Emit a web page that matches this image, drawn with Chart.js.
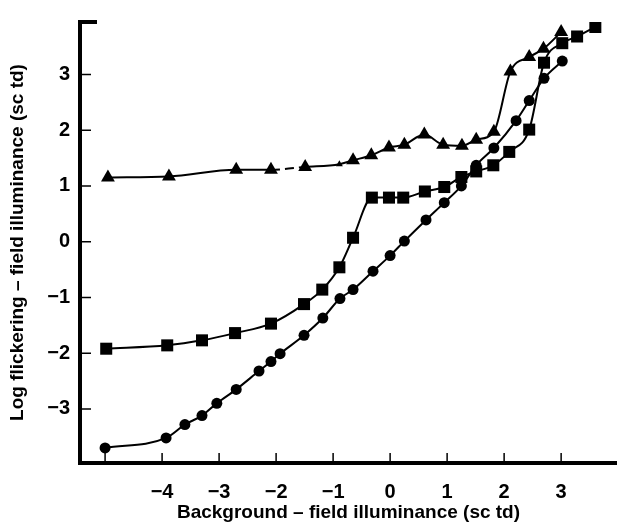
<!DOCTYPE html>
<html>
<head>
<meta charset="utf-8">
<script src="https://cdn.jsdelivr.net/npm/chart.js@4.4.0/dist/chart.umd.min.js"></script>
<style>
  html, body { margin: 0; padding: 0; background: #fff; }
  #wrap { width: 617px; height: 529px; }
</style>
</head>
<body>
<div id="wrap"><canvas id="chart"></canvas></div>
<script>
// background - field illuminance (x) and log flickering - field illuminance (y)
const triX = [-4.95, -3.88, -2.70, -2.09, -1.49, -0.89, -0.65, -0.33, -0.02, 0.25, 0.60, 0.93, 1.26, 1.51, 1.82, 2.11, 2.44, 2.69, 3.00];
const triY = [1.15, 1.17, 1.29, 1.29, 1.34, 1.39, 1.46, 1.55, 1.69, 1.74, 1.92, 1.74, 1.72, 1.83, 1.97, 3.05, 3.31, 3.46, 3.76];

const sqX = [-4.98, -3.91, -3.30, -2.72, -2.09, -1.51, -1.19, -0.89, -0.65, -0.32, -0.02, 0.23, 0.61, 0.95, 1.25, 1.51, 1.81, 2.09, 2.44, 2.70, 3.02, 3.28, 3.60];
const sqY = [-1.92, -1.86, -1.77, -1.64, -1.47, -1.12, -0.86, -0.46, 0.07, 0.79, 0.79, 0.79, 0.90, 0.98, 1.16, 1.26, 1.37, 1.61, 2.01, 3.21, 3.56, 3.68, 3.85];

const cirX = [-5.00, -3.93, -3.60, -3.30, -3.04, -2.70, -2.30, -2.09, -1.93, -1.51, -1.18, -0.88, -0.65, -0.30, 0.00, 0.25, 0.63, 0.95, 1.25, 1.51, 1.82, 2.21, 2.44, 2.70, 3.02];
const cirY = [-3.70, -3.52, -3.28, -3.12, -2.90, -2.65, -2.32, -2.15, -2.01, -1.68, -1.37, -1.02, -0.86, -0.53, -0.25, 0.01, 0.39, 0.70, 1.00, 1.37, 1.68, 2.17, 2.53, 2.93, 3.24];

const xTicks = [-5, -4, -3, -2, -1, 0, 1, 2, 3];
const yTicks = [-3, -2, -1, 0, 1, 2, 3];

const toPts = (xs, ys) => xs.map((x, i) => ({ x, y: ys[i] }));
const minus = (v) => (v < 0 ? "\u2212" + Math.abs(v) : String(v));

const FONT = "'Liberation Sans', Arial, sans-serif";

// tick marks point inwards in the original, so draw them here
const innerTicks = {
  id: "innerTicks",
  afterDraw(chart) {
    const { ctx, chartArea, scales } = chart;
    ctx.save();
    ctx.strokeStyle = "#000";
    ctx.lineWidth = 1.5;
    ctx.beginPath();
    xTicks.forEach((v) => {
      const px = scales.x.getPixelForValue(v);
      ctx.moveTo(px, chartArea.bottom);
      ctx.lineTo(px, chartArea.bottom - 10);
    });
    yTicks.forEach((v) => {
      const py = scales.y.getPixelForValue(v);
      ctx.moveTo(chartArea.left, py);
      ctx.lineTo(chartArea.left + 11, py);
    });
    ctx.stroke();
    // little hook at top of y axis
    ctx.lineWidth = 4;
    ctx.beginPath();
    ctx.moveTo(chartArea.left - 2, chartArea.top);
    ctx.lineTo(chartArea.left + 17, chartArea.top);
    ctx.stroke();
    ctx.restore();
  },
};

const common = {
  showLine: true,
  borderColor: "#000",
  backgroundColor: "#000",
  borderWidth: 2,
  cubicInterpolationMode: "monotone",
  pointBorderWidth: 0,
};

const ctx = document.getElementById("chart").getContext("2d");
new Chart(ctx, {
  type: "scatter",
  data: {
    datasets: [
      {
        ...common,
        label: "triangles",
        data: toPts(triX, triY),
        pointStyle: "triangle",
        pointRadius: (c) => (c.dataIndex === 5 ? 4 : 8),
        segment: {
          borderDash: (c) => (c.p0DataIndex === 3 ? [9, 5] : undefined),
        },
      },
      {
        ...common,
        label: "squares",
        data: toPts(sqX, sqY),
        pointStyle: "rect",
        pointRadius: 8.5,
      },
      {
        ...common,
        label: "circles",
        data: toPts(cirX, cirY),
        pointStyle: "circle",
        pointRadius: 5.5,
      },
    ],
  },
  options: {
    responsive: true,
    maintainAspectRatio: false,
    animation: false,
    events: [],
    layout: { autoPadding: false, padding: { top: 8, right: 0, left: 0, bottom: 0 } },
    plugins: { legend: { display: false }, tooltip: { enabled: false } },
    scales: {
      x: {
        type: "linear",
        min: -5.44,
        max: 3.98,
        afterFit: (s) => { s.height = 66; },
        afterBuildTicks: (s) => { s.ticks = xTicks.map((v) => ({ value: v })); },
        grid: { display: false, drawTicks: false },
        border: { display: true, color: "#000", width: 4 },
        ticks: {
          color: "#000",
          padding: 17,
          autoSkip: false,
          maxRotation: 0,
          font: { family: FONT, size: 20, weight: "bold" },
          callback: (v) => (v === -5 ? "" : minus(v)),
        },
        title: {
          display: true,
          text: "Background \u2013 field illuminance (sc td)",
          color: "#000",
          font: { family: FONT, size: 19, weight: "bold" },
          padding: { top: 0, bottom: 5 },
        },
      },
      y: {
        type: "linear",
        min: -3.97,
        max: 3.94,
        afterFit: (s) => { s.width = 80; },
        afterBuildTicks: (s) => { s.ticks = yTicks.map((v) => ({ value: v })); },
        grid: { display: false, drawTicks: false },
        border: { display: true, color: "#000", width: 4 },
        ticks: {
          color: "#000",
          padding: 10,
          font: { family: FONT, size: 20, weight: "bold" },
          callback: (v) => minus(v),
        },
        title: {
          display: true,
          text: "Log flickering \u2013 field illuminance (sc td)",
          color: "#000",
          font: { family: FONT, size: 19, weight: "bold" },
          padding: { top: 6, bottom: 0 },
        },
      },
    },
  },
  plugins: [innerTicks],
});
</script>
</body>
</html>
